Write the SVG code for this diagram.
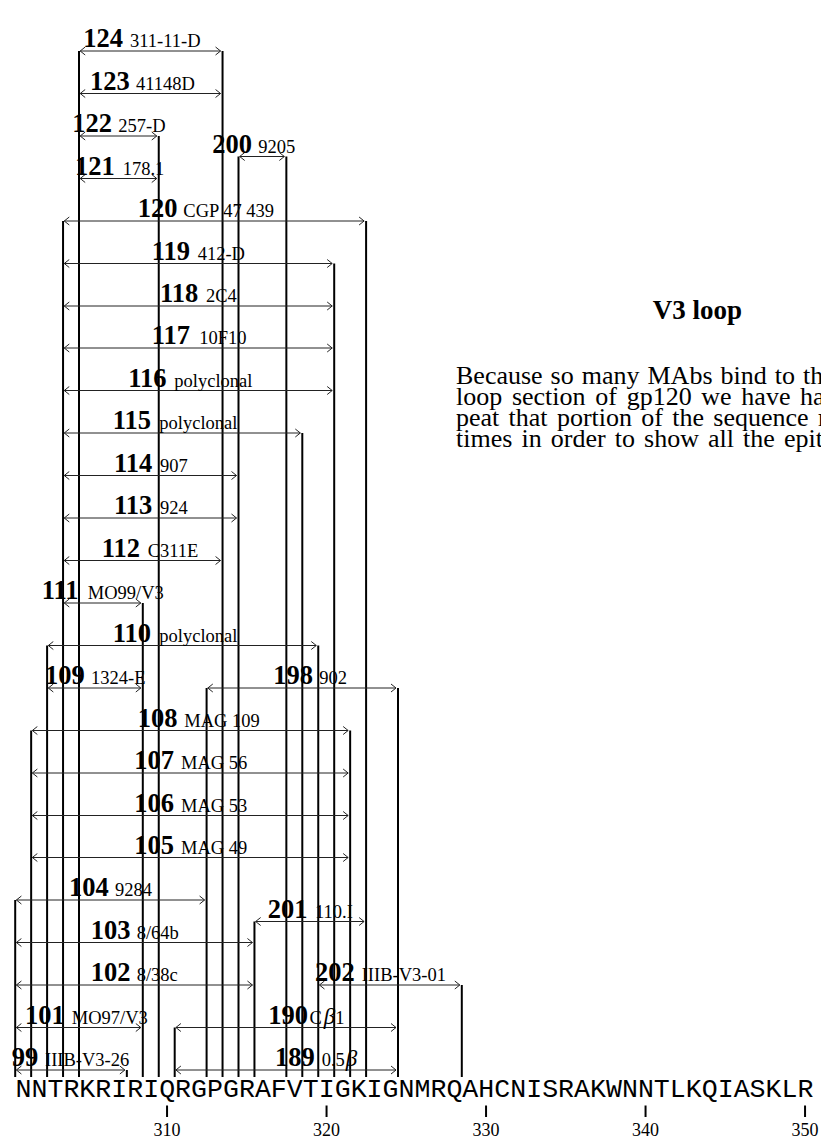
<svg xmlns="http://www.w3.org/2000/svg" width="821" height="1141" viewBox="0 0 821 1141">
<style>
.n{font-family:"Liberation Serif","Times New Roman",serif;font-weight:bold;font-size:26.5px;fill:#000}
.m{font-family:"Liberation Serif","Times New Roman",serif;font-size:18.5px;fill:#000}
.a{stroke:#222;stroke-width:1;fill:none;marker-start:url(#ah);marker-end:url(#ah)}
.v{stroke:#000;stroke-width:2;fill:none}
.p{font-family:"Liberation Serif","Times New Roman",serif;font-size:26px;fill:#000}
.seq{font-family:"Liberation Mono","Courier New",monospace;font-size:26.6px;fill:#000}
.tk{font-family:"Liberation Serif","Times New Roman",serif;font-size:18px;fill:#000;text-anchor:middle}
.b{font-style:italic;font-size:23px}
</style>
<defs>
<marker id="ah" viewBox="0 0 8 10" refX="6" refY="5" markerWidth="8" markerHeight="10" markerUnits="userSpaceOnUse" orient="auto-start-reverse">
<path d="M1,1 L6,5 L1,9" fill="none" stroke="#222" stroke-width="1"/>
</marker>
</defs>
<rect width="821" height="1141" fill="#fff"/>

<g id="connectors">
<line class="v" x1="15.2" y1="900" x2="15.2" y2="1077"/>
<line class="v" x1="31.15" y1="730.5" x2="31.15" y2="1077"/>
<line class="v" x1="47.1" y1="645.5" x2="47.1" y2="1077"/>
<line class="v" x1="63.05" y1="221" x2="63.05" y2="1077"/>
<line class="v" x1="79" y1="51" x2="79" y2="1077"/>
<line class="v" x1="126.85" y1="1070" x2="126.85" y2="1077"/>
<line class="v" x1="142.8" y1="603" x2="142.8" y2="1077"/>
<line class="v" x1="158.75" y1="136" x2="158.75" y2="1077"/>
<line class="v" x1="174.7" y1="1027.5" x2="174.7" y2="1077"/>
<line class="v" x1="206.6" y1="688" x2="206.6" y2="1077"/>
<line class="v" x1="222.55" y1="51" x2="222.55" y2="1077"/>
<line class="v" x1="238.5" y1="156.5" x2="238.5" y2="1077"/>
<line class="v" x1="254.45" y1="921.5" x2="254.45" y2="1077"/>
<line class="v" x1="286.35" y1="156.5" x2="286.35" y2="1077"/>
<line class="v" x1="302.3" y1="433" x2="302.3" y2="1077"/>
<line class="v" x1="318.25" y1="645.5" x2="318.25" y2="1077"/>
<line class="v" x1="334.2" y1="263.5" x2="334.2" y2="1077"/>
<line class="v" x1="350.15" y1="730.5" x2="350.15" y2="1077"/>
<line class="v" x1="366.1" y1="221" x2="366.1" y2="1077"/>
<line class="v" x1="398" y1="688" x2="398" y2="1077"/>
<line class="v" x1="461.8" y1="985" x2="461.8" y2="1077"/>
</g>

<g id="ep124"><line class="a" x1="80.2" y1="51" x2="220.55" y2="51"/><text class="n" x="83.3" y="47">124</text><text class="m" x="130" y="47">311-11-D</text></g>
<g id="ep123"><line class="a" x1="80.2" y1="93.5" x2="220.55" y2="93.5"/><text class="n" x="90" y="89.5">123</text><text class="m" x="136" y="89.5">41148D</text></g>
<g id="ep122"><line class="a" x1="80.2" y1="136" x2="156.75" y2="136"/><text class="n" x="72.3" y="132">122</text><text class="m" x="118.3" y="132">257-D</text></g>
<g id="ep121"><line class="a" x1="80.2" y1="178.5" x2="156.75" y2="178.5"/><text class="n" x="75" y="174.5">121</text><text class="m" x="122.7" y="174.5">178.1</text></g>
<g id="ep200"><line class="a" x1="239.7" y1="156.5" x2="284.35" y2="156.5"/><text class="n" x="212.3" y="152.5">200</text><text class="m" x="258.3" y="152.5">9205</text></g>
<g id="ep120"><line class="a" x1="64.25" y1="221" x2="364.1" y2="221"/><text class="n" x="137.7" y="217">120</text><text class="m" x="183.3" y="217">CGP 47 439</text></g>
<g id="ep119"><line class="a" x1="64.25" y1="263.5" x2="332.2" y2="263.5"/><text class="n" x="151.7" y="259.5">119</text><text class="m" x="197.7" y="259.5">412-D</text></g>
<g id="ep118"><line class="a" x1="64.25" y1="306" x2="332.2" y2="306"/><text class="n" x="160" y="302">118</text><text class="m" x="206" y="302">2C4</text></g>
<g id="ep117"><line class="a" x1="64.25" y1="348" x2="332.2" y2="348"/><text class="n" x="151.7" y="344">117</text><text class="m" x="199.3" y="344">10F10</text></g>
<g id="ep116"><line class="a" x1="64.25" y1="390.5" x2="332.2" y2="390.5"/><text class="n" x="128.3" y="386.5">116</text><text class="m" x="174.3" y="386.5">polyclonal</text></g>
<g id="ep115"><line class="a" x1="64.25" y1="433" x2="300.3" y2="433"/><text class="n" x="112.7" y="429">115</text><text class="m" x="159.3" y="429">polyclonal</text></g>
<g id="ep114"><line class="a" x1="64.25" y1="475.5" x2="236.5" y2="475.5"/><text class="n" x="114" y="471.5">114</text><text class="m" x="160" y="471.5">907</text></g>
<g id="ep113"><line class="a" x1="64.25" y1="518" x2="236.5" y2="518"/><text class="n" x="114" y="514">113</text><text class="m" x="160" y="514">924</text></g>
<g id="ep112"><line class="a" x1="64.25" y1="560.5" x2="220.55" y2="560.5"/><text class="n" x="101.7" y="556.5">112</text><text class="m" x="147.7" y="556.5">C311E</text></g>
<g id="ep111"><line class="a" x1="64.25" y1="603" x2="140.8" y2="603"/><text class="n" x="41.7" y="599">111</text><text class="m" x="87.7" y="599">MO99/V3</text></g>
<g id="ep110"><line class="a" x1="48.3" y1="645.5" x2="316.25" y2="645.5"/><text class="n" x="112.7" y="641.5">110</text><text class="m" x="159.3" y="641.5">polyclonal</text></g>
<g id="ep109"><line class="a" x1="48.3" y1="688" x2="140.8" y2="688"/><text class="n" x="45" y="684">109</text><text class="m" x="91" y="684">1324-E</text></g>
<g id="ep198"><line class="a" x1="207.8" y1="688" x2="396" y2="688"/><text class="n" x="273.3" y="684">198</text><text class="m" x="319.3" y="684">902</text></g>
<g id="ep108"><line class="a" x1="32.35" y1="730.5" x2="348.15" y2="730.5"/><text class="n" x="137.7" y="726.5">108</text><text class="m" x="184.3" y="726.5">MAG 109</text></g>
<g id="ep107"><line class="a" x1="32.35" y1="773" x2="348.15" y2="773"/><text class="n" x="134.3" y="769">107</text><text class="m" x="181" y="769">MAG 56</text></g>
<g id="ep106"><line class="a" x1="32.35" y1="815.5" x2="348.15" y2="815.5"/><text class="n" x="134.3" y="811.5">106</text><text class="m" x="181" y="811.5">MAG 53</text></g>
<g id="ep105"><line class="a" x1="32.35" y1="857.5" x2="348.15" y2="857.5"/><text class="n" x="134.3" y="853.5">105</text><text class="m" x="181" y="853.5">MAG 49</text></g>
<g id="ep104"><line class="a" x1="16.4" y1="900" x2="204.6" y2="900"/><text class="n" x="69" y="896">104</text><text class="m" x="115" y="896">9284</text></g>
<g id="ep201"><line class="a" x1="255.65" y1="921.5" x2="364.1" y2="921.5"/><text class="n" x="267.7" y="917.5">201</text><text class="m" x="315" y="917.5">110.I</text></g>
<g id="ep103"><line class="a" x1="16.4" y1="942.5" x2="252.45" y2="942.5"/><text class="n" x="90.7" y="938.5">103</text><text class="m" x="136.7" y="938.5">8/64b</text></g>
<g id="ep102"><line class="a" x1="16.4" y1="985" x2="252.45" y2="985"/><text class="n" x="90.7" y="981">102</text><text class="m" x="136.7" y="981">8/38c</text></g>
<g id="ep202"><line class="a" x1="319.45" y1="985" x2="459.8" y2="985"/><text class="n" x="315" y="981">202</text><text class="m" x="361.7" y="981">IIIB-V3-01</text></g>
<g id="ep101"><line class="a" x1="16.4" y1="1027.5" x2="140.8" y2="1027.5"/><text class="n" x="25" y="1023.5">101</text><text class="m" x="71.7" y="1023.5">MO97/V3</text></g>
<g id="ep190"><line class="a" x1="175.9" y1="1027.5" x2="396" y2="1027.5"/><text class="n" x="268.3" y="1023.5">190</text><text class="m" x="309.5" y="1023.5">C<tspan class="b" dx="2">β</tspan>1</text></g>
<g id="ep99"><line class="a" x1="16.4" y1="1070" x2="124.85" y2="1070"/><text class="n" x="11.7" y="1066">99</text><text class="m" x="45" y="1066">IIIB-V3-26</text></g>
<g id="ep189"><line class="a" x1="175.9" y1="1070" x2="396" y2="1070"/><text class="n" x="275" y="1066">189</text><text class="m" x="321.7" y="1066">0.5<tspan class="b" dx="1">β</tspan></text></g>

<g id="sequence">
<text class="seq" x="15.5" y="1097">NNTRKRIRIQRGPGRAFVTIGKIGNMRQAHCNISRAKWNNTLKQIASKLR</text>
<g class="v">
<line x1="167.05" y1="1105.5" x2="167.05" y2="1117"/>
<line x1="326.55" y1="1105.5" x2="326.55" y2="1117"/>
<line x1="486.05" y1="1105.5" x2="486.05" y2="1117"/>
<line x1="645.55" y1="1105.5" x2="645.55" y2="1117"/>
<line x1="805.05" y1="1105.5" x2="805.05" y2="1117"/>
</g>
<text class="tk" x="167" y="1136">310</text>
<text class="tk" x="326.5" y="1136">320</text>
<text class="tk" x="486" y="1136">330</text>
<text class="tk" x="645.5" y="1136">340</text>
<text class="tk" x="805" y="1136">350</text>
</g>

<g id="caption">
<text x="697.5" y="319.3" font-family="Liberation Serif, Times New Roman, serif" font-weight="bold" font-size="27" text-anchor="middle">V3 loop</text>
<text class="p" x="456" y="383.5" word-spacing="1.5">Because so many MAbs bind to th</text>
<text class="p" x="456" y="404.7" word-spacing="3.2">loop section of gp120 we have ha</text>
<text class="p" x="456" y="425.9" word-spacing="2.8">peat that portion of the sequence r</text>
<text class="p" x="456" y="447.1" word-spacing="2.6">times in order to show all the epit</text>
</g>
</svg>
